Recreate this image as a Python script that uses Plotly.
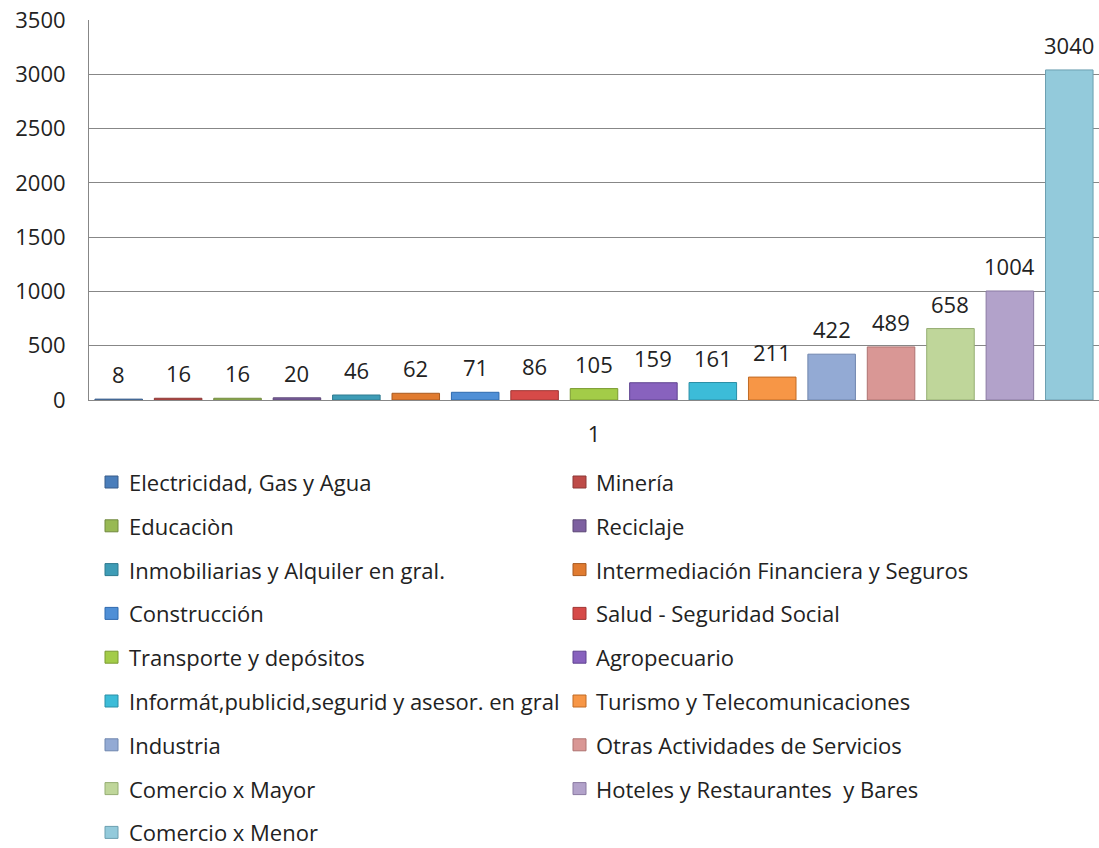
import plotly.graph_objects as go

# sectors and number of companies, in the order of the chart
sectors = [
    'Electricidad, Gas y Agua', 'Minería', 'Educaciòn', 'Reciclaje',
    'Inmobiliarias y Alquiler en gral.', 'Intermediación Financiera y Seguros',
    'Construcción', 'Salud - Seguridad Social', 'Transporte y depósitos',
    'Agropecuario', 'Informát,publicid,segurid y asesor. en gral',
    'Turismo y Telecomunicaciones', 'Industria', 'Otras Actividades de Servicios',
    'Comercio x Mayor', 'Hoteles y Restaurantes  y Bares', 'Comercio x Menor',
]
counts = [8, 16, 16, 20, 46, 62, 71, 86, 105, 159, 161, 211, 422, 489, 658, 1004, 3040]
category = ['1']
y_ticks = [0, 500, 1000, 1500, 2000, 2500, 3000, 3500]

colors = [
    '#4A7EBB', '#BE4B48', '#98B954', '#7D60A0', '#3E9CB6', '#E07B30',
    '#4F8FD6', '#D64A48', '#A3CC48', '#8862BE', '#3CBCD8', '#F79646',
    '#93AAD4', '#D99795', '#BFD69A', '#B2A2CA', '#93CADB',
]
edges = [
    '#385D8A', '#8C3836', '#71893F', '#5C4776', '#2E7A8F', '#A85A20',
    '#2F6AAE', '#A03634', '#7A9A30', '#5F4390', '#2A8FA6', '#C06A24',
    '#6F86AE', '#AE7270', '#95AE73', '#8A7AA2', '#6C9FB0',
]

FONT = 'Open Sans'
FS = 22
INK = '#222222'
W, H = 1099, 848
L, R, T, B = 89, 0, 20, 448
PW, PH = W - L - R, H - T - B


def px_x(px):
    return (px - L) / PW


def px_y(py):
    return (H - B - py) / PH


fig = go.Figure()
n = len(counts)
annotations = []
for i, (name, val, c, e) in enumerate(zip(sectors, counts, colors, edges)):
    fig.add_trace(go.Bar(
        x=category, y=[val], name=name,
        marker=dict(color=c, line=dict(color=e, width=1)),
        showlegend=False,
    ))
    # value label above each bar of the group
    annotations.append(dict(
        x=-0.5 + (i + 0.5) / n, y=val, xref='x', yref='y',
        text=str(val), showarrow=False, yanchor='bottom', yshift=8,
        font=dict(family=FONT, size=FS, color=INK),
    ))

# legend drawn by hand: two columns, as in the original
shapes = []
for i, (name, c, e) in enumerate(zip(sectors, colors, edges)):
    row, col = divmod(i, 2)
    cy = 482 + row * 43.8
    mx = 105 if col == 0 else 573
    tx = 127 if col == 0 else 594
    shapes.append(dict(
        type='rect', xref='paper', yref='paper',
        x0=px_x(mx), x1=px_x(mx + 13), y0=px_y(cy + 6), y1=px_y(cy - 6),
        fillcolor=c, line=dict(color=e, width=1),
    ))
    annotations.append(dict(
        xref='paper', yref='paper', x=px_x(tx), y=px_y(cy),
        text=name, showarrow=False, xanchor='left', yanchor='middle',
        font=dict(family=FONT, size=FS, color=INK),
    ))

fig.update_layout(
    width=W, height=H,
    margin=dict(l=L, r=R, t=T, b=B),
    paper_bgcolor='white', plot_bgcolor='white',
    barmode='group', bargap=0, bargroupgap=0.2,
    font=dict(family=FONT, size=FS, color=INK),
    shapes=shapes, annotations=annotations,
)
fig.update_xaxes(
    type='category', showgrid=False, showline=True, linecolor='#878787',
    linewidth=1, ticks='', ticklabelstandoff=15,
    tickfont=dict(family=FONT, size=FS, color=INK),
)
fig.update_yaxes(
    range=[0, 3500], tickvals=y_ticks, showgrid=True, gridcolor='#878787',
    gridwidth=1, showline=True, linecolor='#878787', linewidth=1, ticks='',
    ticklabelstandoff=18, zeroline=False,
    tickfont=dict(family=FONT, size=FS, color=INK),
)

fig.write_html('out.html', config={'displayModeBar': False},
               post_script="document.body.style.margin='0';")
